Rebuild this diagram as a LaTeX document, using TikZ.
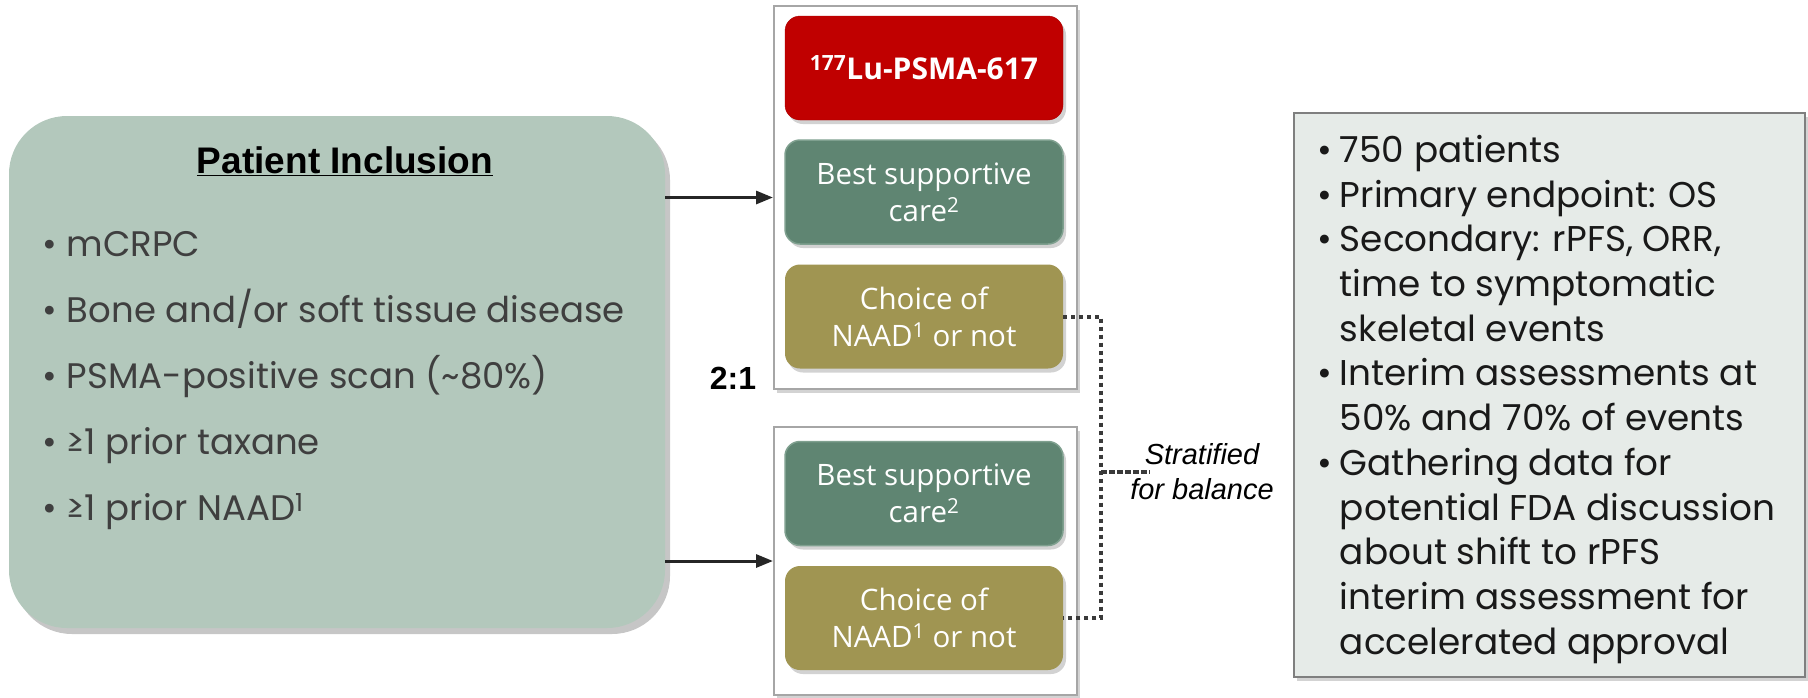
\documentclass[tikz,border=0pt]{standalone}
\usepackage{fontspec}
\setmainfont{Liberation Sans}
\newfontfamily\gothic{Poppins}
\newfontfamily\boxfont{Open Sans}
\usetikzlibrary{arrows.meta,shadows}
\definecolor{inclfill}{HTML}{B3C8BC}
\definecolor{armred}{HTML}{C00000}
\definecolor{armgreen}{HTML}{5F8572}
\definecolor{armgreenline}{HTML}{7FA08F}
\definecolor{armolive}{HTML}{A09552}
\definecolor{infofill}{HTML}{E6EBE8}
\definecolor{infoline}{HTML}{7F7F7F}
\definecolor{contline}{HTML}{A6A6A6}
\definecolor{txtgray}{HTML}{3F3F3F}
\definecolor{linegray}{HTML}{262626}
\definecolor{dotgray}{HTML}{3A3A3A}
\begin{document}
\begin{tikzpicture}[x=1pt,y=-1pt,
  softshadow/.style={drop shadow={opacity=0.35,shadow xshift=3pt,shadow yshift=-4pt}},
  inclbox/.style={draw=none,fill=inclfill,rounded corners=58pt,minimum width=656pt,minimum height=512pt,inner sep=0pt,
    drop shadow={opacity=0.45,shadow xshift=5pt,shadow yshift=-6pt}},
  container/.style={draw=contline,line width=2pt,fill=white,minimum width=303pt,inner sep=0pt,softshadow},
  armbox/.style={rounded corners=15pt,minimum width=278pt,minimum height=104pt,inner sep=0pt,align=center,
    text=white,font=\boxfont\fontsize{29.5}{37}\selectfont,softshadow},
  redarm/.style={armbox,fill=armred,draw=armred!90!black,font=\boxfont\bfseries\fontsize{30}{37}\selectfont},
  greenarm/.style={armbox,fill=armgreen,draw=armgreenline,line width=1.5pt},
  olivearm/.style={armbox,fill=armolive,draw=none},
  infobox/.style={draw=infoline,line width=1.5pt,fill=infofill,minimum width=511pt,minimum height=564pt,inner sep=0pt,softshadow},
  randarrow/.style={draw=linegray,line width=3pt,-{Triangle[length=17pt,width=13pt]}},
  stratline/.style={draw=dotgray,line width=4pt,dash pattern=on 4pt off 4pt},
  stratstub/.style={draw=dotgray,line width=3.5pt,dash pattern=on 6pt off 2pt}
]
\useasboundingbox (0,0) rectangle (1808,697);

% inclusion box
\node[inclbox] (incl) at (337,372) {};
\node[font=\bfseries\fontsize{37}{44}\selectfont,inner sep=0pt] (title) at (345,161) {\underline{Patient Inclusion}};
\node[anchor=north west,inner sep=0pt,text=txtgray,font=\gothic\fontsize{35.5}{66}\selectfont] (crit) at (42,210)
{\begin{tabular}{@{}l@{\hspace{10pt}}l@{}}
\textbullet & mCRPC\\
\textbullet & Bone and/or soft tissue disease\\
\textbullet & PSMA-positive scan (\textasciitilde 80\%)\\
\textbullet & ≥1 prior taxane\\
\textbullet & ≥1 prior NAAD\textsuperscript{1}
\end{tabular}};

% containers
\node[container,minimum height=383pt] (top) at (925.5,197.5) {};
\node[container,minimum height=268pt] (bot) at (925.5,561) {};

% arms
\node[redarm] (lu) at (924,68) {\textsuperscript{177}Lu-PSMA-617};
\node[greenarm] (bsc1) at (924,192) {Best supportive\\care\textsuperscript{2}};
\node[olivearm] (naad1) at (924,316.5) {Choice of\\NAAD\textsuperscript{1} or not};
\node[greenarm] (bsc2) at (924,493.5) {Best supportive\\care\textsuperscript{2}};
\node[olivearm] (naad2) at (924,618) {Choice of\\NAAD\textsuperscript{1} or not};

% randomisation arrows
\draw[randarrow] (incl.east |- top.west) -- (top.west);
\draw[randarrow] (incl.east |- bot.west) -- (bot.west);
\node[font=\bfseries\fontsize{32}{38}\selectfont,inner sep=0pt] (ratio) at (733,378) {2:1};

% stratification
\coordinate (sj) at (1101,472);
\draw[stratline] (naad1.east) -- (sj |- naad1.east) -- (sj |- naad2.east) -- (naad2.east);
\node[font=\itshape\fontsize{29}{35}\selectfont,align=center,inner sep=0pt] (strat) at (1202,472) {Stratified\\for balance};
\draw[stratstub] (sj) -- ++(49,0);

% info box
\node[infobox] (info) at (1549.5,395) {};
\node[anchor=north west,inner sep=0pt,text=black!90,font=\gothic\fontsize{35.8}{44.7}\selectfont] (infotext) at (1317,131)
{\begin{tabular}{@{}l@{\hspace{8pt}}l@{}}
\textbullet & 750 patients\\
\textbullet & Primary endpoint: OS\\
\textbullet & Secondary: rPFS, ORR,\\
 & time to symptomatic\\
 & skeletal events\\
\textbullet & Interim assessments at\\
 & 50\% and 70\% of events\\
\textbullet & Gathering data for\\
 & potential FDA discussion\\
 & about shift to rPFS\\
 & interim assessment for\\
 & accelerated approval
\end{tabular}};
\end{tikzpicture}
\end{document}
